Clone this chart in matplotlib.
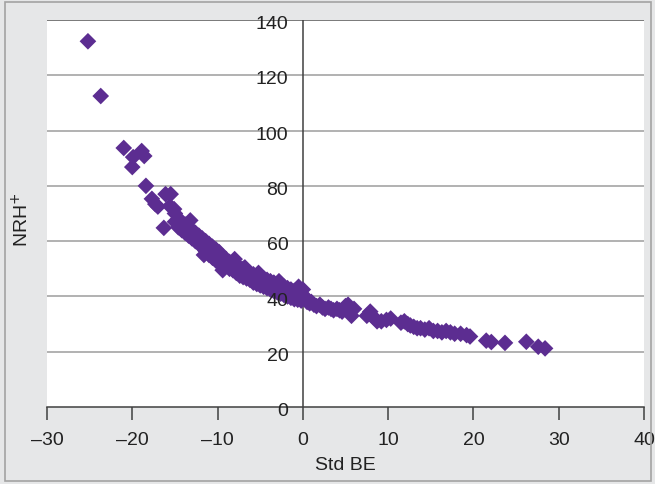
import matplotlib.pyplot as plt
from matplotlib.patches import Rectangle

# Valores (Std BE no eixo x, NRH+ no eixo y)
std_be = [
    -25.2, -23.7, -21.0, -19.9, -20.0, -18.9, -18.6, -18.4, -17.7, -17.3,
    -17.0, -16.1, -15.5, -16.3, -15.1, -15.6,
    -15.0, -15.0, -14.6, -14.6, -14.2, -14.2, -13.8, -13.8, -13.4, -13.4,
    -13.0, -13.0, -12.6, -12.6, -12.2, -12.2, -11.8, -11.8, -11.4, -11.4,
    -11.0, -11.0, -10.6, -10.6, -10.2, -10.2, -9.8, -9.8, -9.4, -9.4,
    -9.0, -9.0, -8.6, -8.6, -8.2, -8.2, -7.8, -7.8, -7.4, -7.4,
    -7.0, -7.0, -6.6, -6.6, -6.2, -6.2, -5.8, -5.8, -5.4, -5.4,
    -5.0, -5.0, -4.6, -4.6, -4.2, -4.2, -3.8, -3.8, -3.4, -3.4,
    -3.0, -3.0, -2.6, -2.6, -2.2, -2.2, -1.8, -1.8, -1.4, -1.4,
    -1.0, -1.0, -0.6, -0.6, -0.2, -0.2, 0.0, 0.2,
    -13.2, -11.6, -9.4, -8.0, -6.8, -5.2, -2.8, -0.5,
    0.5, 0.8, 1.0, 1.3, 1.6, 2.0, 2.3, 2.6, 3.0, 3.3,
    3.6, 4.0, 4.3, 4.6, 5.0, 5.3, 5.5, 5.7, 6.0, 7.5,
    7.9, 8.3, 8.7, 9.2, 9.8, 10.3, 11.5, 11.9, 12.3, 12.6,
    13.0, 13.4, 13.8, 14.3, 14.8, 15.3, 15.8, 16.3, 16.8, 17.3,
    17.8, 18.5, 19.2, 19.6, 21.5, 22.1, 23.7, 26.2, 27.6, 28.4,
]
nrh = [
    132.3, 112.5, 93.7, 90.4, 86.8, 92.6, 90.8, 80.0, 75.3, 73.4,
    72.5, 77.0, 77.0, 64.8, 71.6, 72.7,
    70.0, 67.0, 68.0, 65.0, 67.0, 64.0, 66.0, 63.0, 65.0, 62.0,
    64.0, 61.0, 63.0, 60.0, 62.0, 59.0, 61.0, 58.0, 60.0, 56.5,
    59.0, 55.0, 58.0, 54.0, 57.0, 53.0, 56.0, 52.0, 54.5, 51.5,
    53.5, 51.0, 52.5, 50.0, 52.0, 49.5, 51.0, 48.5, 50.5, 47.5,
    50.0, 47.0, 49.0, 46.5, 48.5, 46.0, 48.0, 45.0, 47.5, 44.5,
    47.0, 44.0, 46.5, 43.5, 46.0, 43.0, 45.5, 42.5, 45.0, 42.0,
    44.5, 41.5, 44.0, 41.0, 43.5, 40.5, 43.0, 40.0, 42.5, 39.5,
    42.0, 39.0, 41.5, 38.8, 41.0, 38.5, 42.5, 40.0,
    67.5, 55.0, 49.5, 53.5, 50.5, 48.5, 45.5, 43.5,
    38.0, 37.5, 38.0, 37.0, 36.5, 37.0, 36.0, 35.5, 36.0, 35.5,
    35.0, 35.5, 35.0, 34.5, 36.5, 37.0, 35.0, 33.0, 35.5, 33.0,
    34.5, 32.5, 31.0, 31.0, 31.5, 32.0, 30.5, 31.0, 30.0, 29.5,
    29.0, 28.5, 28.5, 28.0, 28.5, 27.5, 27.5, 27.0, 27.5, 27.0,
    26.5, 26.5, 26.0, 25.5, 24.0, 23.5, 23.2, 23.6, 21.8, 21.2,
]

x_ticks = [-30, -20, -10, 0, 10, 20, 30, 40]
y_ticks = [0, 20, 40, 60, 80, 100, 120, 140]

COR_FUNDO = "#e6e7e8"
COR_PONTO = "#5c2d91"
FONTE = "Liberation Sans"


def desenhar():
    fig = plt.figure(figsize=(6.55, 4.85), dpi=100, facecolor=COR_FUNDO)

    # Moldura cinza em volta do gráfico
    fig.patches.append(Rectangle((5 / 655, 3 / 485), 646 / 655, 479 / 485,
                                 transform=fig.transFigure, fill=False,
                                 edgecolor="#a3a3a3", linewidth=1.2))

    ax = fig.add_axes([47 / 655, 77 / 485, 597 / 655, 387 / 485])
    ax.set_facecolor("white")
    ax.set_xlim(-30, 40)
    ax.set_ylim(0, 140)

    # Linhas de grade horizontais
    for y in y_ticks[1:]:
        cor = "#6e6e6e" if y == 140 else "#ababab"
        ax.axhline(y, color=cor, linewidth=1.3, zorder=1)

    ax.scatter(std_be, nrh, marker="D", s=72, color=COR_PONTO,
               edgecolors="none", zorder=3)

    # Eixo y cruzando em x = 0, eixo x embaixo
    for lado in ["top", "right", "left"]:
        ax.spines[lado].set_visible(False)
    ax.spines["bottom"].set_color("#404040")
    ax.spines["bottom"].set_linewidth(1.1)
    ax.axvline(0, color="#404040", linewidth=1.1, zorder=2)

    ax.set_xticks(x_ticks)
    ax.set_xticklabels([str(v).replace("-", "\u2013") for v in x_ticks],
                       fontsize=14, fontfamily=FONTE, color="#222222")
    ax.tick_params(axis="x", direction="out", length=9, width=1.1,
                   color="#404040", pad=8)
    ax.set_yticks([])

    # Rótulos do eixo y ao lado da linha de x = 0
    for y in y_ticks:
        ax.text(-1.7, y - 1.3, str(y), ha="right", va="center", fontsize=14,
                fontfamily=FONTE, color="#222222", zorder=4)

    ax.set_xlabel("Std BE", fontsize=14, fontfamily=FONTE, color="#222222",
                  labelpad=6)
    fig.text(22 / 655, 1 - 220 / 485, "NRH$^{+}$", rotation=90, ha="center",
             va="center", fontsize=14, fontfamily=FONTE, color="#222222")

    fig.savefig("out.png", dpi=100, facecolor=COR_FUNDO)


if __name__ == "__main__":
    desenhar()
